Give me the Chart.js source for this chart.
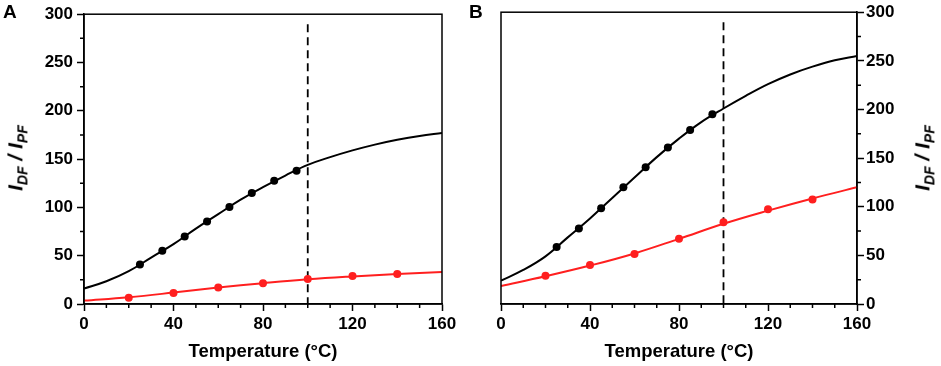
<!DOCTYPE html>
<html lang="en">
<head>
<meta charset="UTF-8" />
<title>IDF / IPF versus temperature</title>
<script src="https://cdn.jsdelivr.net/npm/chart.js"></script>
<style>
  body {
    margin: 0;
    background: #fff;
    font-family: "Liberation Sans", Arial, sans-serif;
  }
  .panel { position: absolute; top: 0; height: 366px; }
  #panelA { left: 0; width: 470px; }
  #panelB { left: 470px; width: 471px; }
  .letter {
    position: absolute;
    top: 1px;
    font-weight: bold;
    font-size: 19px;
  }
  .ytitle {
    position: absolute;
    transform: translate(-50%, -50%) rotate(-90deg);
    font-weight: bold;
    font-style: italic;
    font-size: 21px;
    line-height: 24px;
    white-space: nowrap;
  }
  .ytitle sub { font-size: 14px; }
</style>
</head>
<body>
  <div class="panel" id="panelA"><canvas id="chartA"></canvas></div>
  <div class="panel" id="panelB"><canvas id="chartB"></canvas></div>
  <div class="letter" style="left:3px">A</div>
  <div class="letter" style="left:469px">B</div>
  <div class="ytitle" style="left:19px; top:158px">I<sub>DF</sub> / I<sub>PF</sub></div>
  <div class="ytitle" style="left:926px; top:158px">I<sub>DF</sub> / I<sub>PF</sub></div>

<script>
// fitted curves
const fineT = [0, 10, 20, 30, 40, 50, 60, 70, 80, 90, 100, 110, 120, 130, 140, 150, 160];
const coarseT = [0, 20, 40, 60, 80, 100, 120, 140, 160];

const fitBlackA = [16, 23.5, 34, 48, 62, 78, 93, 108, 121, 133, 144, 152, 159, 165, 170, 174, 177];
const fitRedA = [3.5, 7, 11.8, 17, 21.5, 25.5, 28.5, 31, 33];
const fitBlackB = [24, 35, 49, 68.5, 88, 109, 130, 151, 170, 187, 201, 214, 226, 236, 244, 250.5, 255];
const fitRedB = [18.5, 28.5, 39.5, 52, 67, 82.5, 96, 108.5, 120];

// measured points
const blackT = [25, 35, 45, 55, 65, 75, 85, 95];
const redT = [20, 40, 60, 80, 100, 120, 140];

const blackA = [41, 55, 70, 85.5, 100.5, 115, 127.5, 138];
const redA = [6.5, 11.5, 17, 21.5, 26, 29, 31];
const blackB = [58.5, 77.5, 98.5, 120, 140.5, 161, 179, 195];
const redB = [29, 40, 51.5, 67, 84, 97.5, 107.5];

const dashAt = 100;
const RED = '#ff1f1f';

function pts(xs, ys) {
  return xs.map((x, i) => ({ x: x, y: ys[i] }));
}

// frame, minor ticks and the dashed line
const extras = {
  id: 'extras',
  beforeDatasetsDraw(chart) {
    const { ctx, chartArea: a, scales: { x } } = chart;
    const px = x.getPixelForValue(dashAt);
    ctx.save();
    ctx.strokeStyle = '#000';
    ctx.lineWidth = 1.8;
    ctx.setLineDash([8, 5]);
    ctx.beginPath();
    ctx.moveTo(px, a.top + 10);
    ctx.lineTo(px, a.bottom);
    ctx.stroke();
    ctx.restore();
  },
  afterDraw(chart) {
    const { ctx, chartArea: a, scales: { x, y } } = chart;
    ctx.save();
    ctx.strokeStyle = '#000';
    ctx.lineWidth = 1.5;
    ctx.strokeRect(a.left, a.top, a.right - a.left, a.bottom - a.top);
    ctx.beginPath();
    for (let v = 10; v < 160; v += 10) {
      if (v % 40 === 0) continue;
      const px = x.getPixelForValue(v);
      ctx.moveTo(px, a.bottom);
      ctx.lineTo(px, a.bottom + 4);
    }
    const right = y.position === 'right';
    const ax = right ? a.right : a.left;
    for (let v = 25; v < 300; v += 50) {
      const py = y.getPixelForValue(v);
      ctx.moveTo(ax, py);
      ctx.lineTo(right ? ax + 4 : ax - 4, py);
    }
    ctx.stroke();
    ctx.restore();
  }
};

function makeChart(id, fitB, fitR, ptsB, ptsR, side) {
  const tickFont = { family: '"Liberation Sans", Arial, sans-serif', size: 17, weight: 'bold' };
  return new Chart(document.getElementById(id), {
    type: 'scatter',
    data: {
      datasets: [
        { data: pts(fineT, fitB), showLine: true, borderColor: '#000', borderWidth: 2,
          pointRadius: 0, tension: 0.4 },
        { data: pts(coarseT, fitR), showLine: true, borderColor: RED, borderWidth: 2,
          pointRadius: 0, tension: 0.4 },
        { data: pts(blackT, ptsB), pointRadius: 4, pointBackgroundColor: '#000',
          pointBorderColor: '#000', pointBorderWidth: 0 },
        { data: pts(redT, ptsR), pointRadius: 4, pointBackgroundColor: RED,
          pointBorderColor: RED, pointBorderWidth: 0 }
      ]
    },
    options: {
      responsive: true,
      maintainAspectRatio: false,
      animation: false,
      layout: {
        padding: side === 'left'
          ? { top: 12, right: 28, left: 0, bottom: 0 }
          : { top: 12, right: 0, left: 31, bottom: 0 }
      },
      plugins: { legend: { display: false }, tooltip: { enabled: false } },
      scales: {
        x: {
          type: 'linear', min: 0, max: 160,
          afterFit: s => { s.height = 62; },
          ticks: { stepSize: 40, color: '#000', font: tickFont, padding: 3 },
          grid: { drawOnChartArea: false, tickLength: 7, tickColor: '#000', tickWidth: 1.5 },
          border: { color: '#000', width: 1.5 },
          title: {
            display: true, text: 'Temperature (°C)', color: '#000',
            font: { family: '"Liberation Sans", Arial, sans-serif', size: 18.5, weight: 'bold' },
            padding: { top: 0, bottom: 3 }
          }
        },
        y: {
          position: side, min: 0, max: 300,
          afterFit: s => { s.width = 84; },
          ticks: { stepSize: 50, color: '#000', font: tickFont, padding: side === 'left' ? 4 : 2 },
          grid: { drawOnChartArea: false, tickLength: 7, tickColor: '#000', tickWidth: 1.5 },
          border: { color: '#000', width: 1.5 }
        }
      }
    },
    plugins: [extras]
  });
}

makeChart('chartA', fitBlackA, fitRedA, blackA, redA, 'left');
makeChart('chartB', fitBlackB, fitRedB, blackB, redB, 'right');
</script>
</body>
</html>
